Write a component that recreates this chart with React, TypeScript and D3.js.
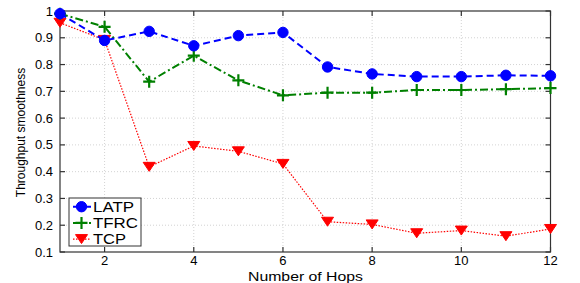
import * as d3 from 'd3';
import React, { useRef, useEffect } from 'react';

const hops = [1, 2, 3, 4, 5, 6, 7, 8, 9, 10, 11, 12];
const latp = [0.99, 0.89, 0.924, 0.87, 0.908, 0.92, 0.791, 0.765, 0.755, 0.755, 0.76, 0.758];
const tfrc = [0.99, 0.941, 0.736, 0.833, 0.741, 0.685, 0.695, 0.695, 0.705, 0.705, 0.708, 0.712];
const tcp = [0.956, 0.892, 0.418, 0.496, 0.476, 0.429, 0.213, 0.203, 0.17, 0.18, 0.159, 0.186];
const xTicks = [2, 4, 6, 8, 10, 12];
const yTicks = [0.1, 0.2, 0.3, 0.4, 0.5, 0.6, 0.7, 0.8, 0.9, 1];

const W = 580, H = 283;
const left = 60, right = 550.5, top = 11, bottom = 252;
const font = 'Liberation Sans, Arial, sans-serif';

export default function App() {
    const ref = useRef(null);

    useEffect(() => {
        const svg = d3.select(ref.current);
        svg.selectAll('*').remove();

        const x = d3.scaleLinear().domain([1, 12]).range([left, right]);
        const y = d3.scaleLinear().domain([0.1, 1]).range([bottom, top]);

        // grid
        const grid = svg.append('g').attr('stroke', '#c8c8c8').attr('stroke-width', 0.8).attr('stroke-dasharray', '1,2');
        xTicks.filter(t => t < 12).forEach(t => {
            grid.append('line').attr('x1', x(t)).attr('x2', x(t)).attr('y1', top).attr('y2', bottom);
        });
        yTicks.filter(t => t > 0.1 && t < 1).forEach(t => {
            grid.append('line').attr('x1', left).attr('x2', right).attr('y1', y(t)).attr('y2', y(t));
        });

        // box + ticks
        const ax = svg.append('g').attr('stroke', '#333').attr('stroke-width', 1.2);
        ax.append('rect').attr('x', left).attr('y', top).attr('width', right - left).attr('height', bottom - top).attr('fill', 'none');
        xTicks.forEach(t => {
            ax.append('line').attr('x1', x(t)).attr('x2', x(t)).attr('y1', bottom).attr('y2', bottom - 5);
            ax.append('line').attr('x1', x(t)).attr('x2', x(t)).attr('y1', top).attr('y2', top + 5);
        });
        yTicks.forEach(t => {
            ax.append('line').attr('x1', left).attr('x2', left + 5).attr('y1', y(t)).attr('y2', y(t));
            ax.append('line').attr('x1', right).attr('x2', right - 5).attr('y1', y(t)).attr('y2', y(t));
        });

        // tick labels
        svg.append('g').selectAll('text').data(xTicks).enter().append('text')
            .attr('x', d => x(d)).attr('y', 265)
            .attr('text-anchor', 'middle').attr('font-family', font).attr('font-size', 13)
            .text(d => d);
        svg.append('g').selectAll('text').data(yTicks).enter().append('text')
            .attr('x', 53).attr('y', d => y(d) + 4.5)
            .attr('text-anchor', 'end').attr('font-family', font).attr('font-size', 13)
            .text(d => d === 1 ? '1' : d.toFixed(1));

        svg.append('text').attr('x', 305.5).attr('y', 280.5).attr('text-anchor', 'middle')
            .attr('font-family', font).attr('font-size', 13.5)
            .attr('textLength', 115).attr('lengthAdjust', 'spacingAndGlyphs')
            .text('Number of Hops');
        svg.append('text').attr('transform', `translate(25,${(top + bottom) / 2 + 1}) rotate(-90)`)
            .attr('text-anchor', 'middle').attr('font-family', font).attr('font-size', 12)
            .text('Throughput smoothness');

        const line = d3.line().x(d => x(d[0])).y(d => y(d[1]));
        const series = [
            { name: 'LATP', vals: latp, color: '#0000ff', dash: '7,4', width: 2, marker: 'circle', tl: 41 },
            { name: 'TFRC', vals: tfrc, color: '#008000', dash: '8,3,2,3', width: 2, marker: 'plus', tl: 45 },
            { name: 'TCP', vals: tcp, color: '#ff0000', dash: '1.5,1.5', width: 1.2, marker: 'tri', tl: 33 },
        ];

        const drawMarker = (g, type, cx, cy, color) => {
            if (type === 'circle') {
                g.append('circle').attr('cx', cx).attr('cy', cy).attr('r', 5.2).attr('fill', color).attr('stroke', color);
            } else if (type === 'plus') {
                g.append('path').attr('d', `M${cx - 6},${cy}H${cx + 6}M${cx},${cy - 6}V${cy + 6}`)
                    .attr('stroke', color).attr('stroke-width', 2.2).attr('fill', 'none');
            } else {
                g.append('path').attr('d', `M${cx - 6},${cy - 4.5}L${cx + 6},${cy - 4.5}L${cx},${cy + 4.5}Z`)
                    .attr('fill', color).attr('stroke', color);
            }
        };

        // draw in reverse so LATP is on top
        [...series].reverse().forEach(s => {
            const pts = hops.map((h, i) => [h, s.vals[i]]);
            const g = svg.append('g');
            g.append('path').attr('d', line(pts)).attr('fill', 'none')
                .attr('stroke', s.color).attr('stroke-width', s.width).attr('stroke-dasharray', s.dash);
            pts.forEach(p => drawMarker(g, s.marker, x(p[0]), y(p[1]), s.color));
        });

        // legend
        const lg = svg.append('g');
        lg.append('rect').attr('x', 69).attr('y', 198).attr('width', 72).attr('height', 48)
            .attr('fill', 'white').attr('stroke', '#333').attr('stroke-width', 1);
        series.forEach((s, i) => {
            const ly = 206.7 + i * 16.2;
            lg.append('line').attr('x1', 73).attr('x2', 91).attr('y1', ly).attr('y2', ly)
                .attr('stroke', s.color).attr('stroke-width', s.width).attr('stroke-dasharray', s.dash);
            drawMarker(lg, s.marker, 81.5, ly, s.color);
            lg.append('text').attr('x', 93).attr('y', ly + 5).attr('font-family', font).attr('font-size', 14)
                .attr('textLength', s.tl).attr('lengthAdjust', 'spacingAndGlyphs')
                .text(s.name);
        });
    }, []);

    return (
        <div style={{ position: 'absolute', left: 0, top: 0, width: W, height: H, background: 'white' }}>
            <svg ref={ref} width={W} height={H}></svg>
        </div>
    );
}
